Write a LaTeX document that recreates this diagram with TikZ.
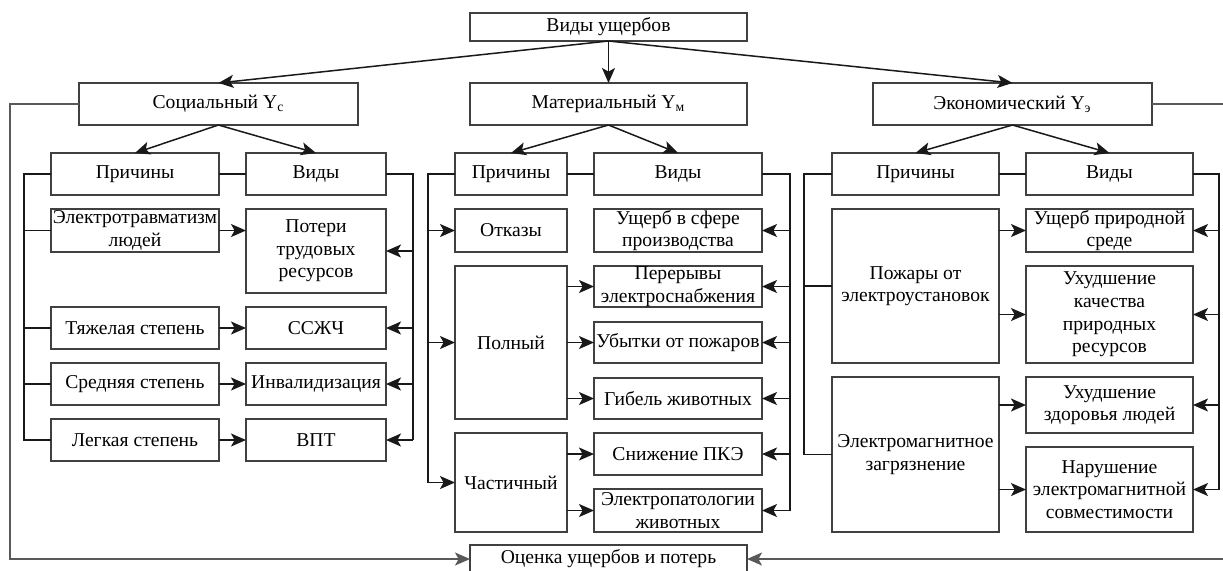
\documentclass[tikz,border=0pt]{standalone}
\usepackage{fontspec}
\setmainfont{Liberation Serif}
\usetikzlibrary{arrows.meta}

% box given by its corners (x1,y1) (x2,y2), y growing downwards
\newcommand\bx[6]{%
  \node[box, minimum width={(#4-#2)*0.5pt}, minimum height={(#5-#3)*0.5pt}]
    (#1) at ({(#2+#4)/2},{(#3+#5)/2}) {#6};}

\begin{document}
\begin{tikzpicture}[x=0.5pt, y=-0.5pt,
  box/.style={draw=black!75, line width=0.8pt, inner sep=0pt, outer sep=0pt,
              align=center, font=\fontsize{9.8}{11.3}\selectfont},
  link/.style={draw=black!90, line width=0.75pt},
  tip/.style={-{Stealth[length=7.5pt, width=6.5pt, inset=1.8pt]}},
  arr/.style={link, tip},
  back/.style={draw=black!65, line width=0.65pt, tip}]
\useasboundingbox (0,0) rectangle (1223,570);

% top levels
\bx{top}{470}{13}{747}{41}{Виды ущербов}
\bx{soc}{79}{83}{358}{125}{Социальный Y\textsubscript{с}}
\bx{mat}{470}{83}{747}{125}{Материальный Y\textsubscript{м}}
\bx{eco}{873}{83}{1152}{125}{Экономический Y\textsubscript{э}}

\bx{sPr}{51}{153}{219}{195}{Причины}
\bx{sVi}{246}{153}{386}{195}{Виды}
\bx{mPr}{455}{153}{567}{195}{Причины}
\bx{mVi}{594}{153}{762}{195}{Виды}
\bx{ePr}{832}{153}{999}{195}{Причины}
\bx{eVi}{1026}{153}{1193}{195}{Виды}

% social damage
\bx{sC1}{51}{209}{219}{252}{Электротравматизм\\людей}
\bx{sC2}{51}{307}{219}{349}{Тяжелая степень}
\bx{sC3}{51}{363}{219}{405}{Средняя степень}
\bx{sC4}{51}{419}{219}{461}{Легкая степень}
\bx{sT1}{246}{209}{386}{293}{Потери\\трудовых\\ресурсов}
\bx{sT2}{246}{307}{386}{349}{ССЖЧ}
\bx{sT3}{246}{363}{386}{405}{Инвалидизация}
\bx{sT4}{246}{419}{386}{461}{ВПТ}

% material damage
\bx{mC1}{455}{209}{567}{252}{Отказы}
\bx{mC2}{455}{266}{567}{419}{Полный}
\bx{mC3}{455}{433}{567}{532}{Частичный}
\bx{mT1}{594}{209}{762}{252}{Ущерб в сфере\\производства}
\bx{mT2}{594}{266}{762}{307}{Перерывы\\электроснабжения}
\bx{mT3}{594}{322}{762}{363}{Убытки от пожаров}
\bx{mT4}{594}{378}{762}{419}{Гибель животных}
\bx{mT5}{594}{433}{762}{475}{Снижение ПКЭ}
\bx{mT6}{594}{489}{762}{532}{Электропатологии\\животных}

% economic damage
\bx{eC1}{832}{209}{999}{363}{Пожары от\\электроустановок}
\bx{eC2}{832}{377}{999}{532}{Электромагнитное\\загрязнение}
\bx{eT1}{1026}{209}{1193}{252}{Ущерб природной\\среде}
\bx{eT2}{1026}{266}{1193}{363}{Ухудшение\\качества\\природных\\ресурсов}
\bx{eT3}{1026}{377}{1193}{433}{Ухудшение\\здоровья людей}
\bx{eT4}{1026}{447}{1193}{532}{Нарушение\\электромагнитной\\совместимости}

% assessment
\bx{res}{470}{545}{747}{573}{Оценка ущербов и потерь}

% tree links
\foreach \n in {soc,mat,eco} \draw[arr] (top.south) -- (\n.north);
\foreach \a/\p/\v in {soc/sPr/sVi, mat/mPr/mVi, eco/ePr/eVi} {
  \draw[arr] (\a.south) -- (\p.north);
  \draw[arr] (\a.south) -- (\v.north);
  \draw[link] (\p.east) -- (\v.west);
}

% social: causes bus, cause -> type, types bus
\draw[link] (sPr.west) -- ++(-27,0) coordinate (sL) -- (sL |- sC4.west) -- (sC4.west);
\foreach \n in {sC1,sC2,sC3} \draw[link] (sL |- \n.west) -- (\n.west);
\draw[arr] (sC1.east) -- (sC1.east -| sT1.west);
\foreach \i in {2,3,4} \draw[arr] (sC\i.east) -- (sT\i.west);
\draw[link] (sVi.east) -- ++(27,0) coordinate (sR) -- (sR |- sT4.east);
\foreach \i in {1,...,4} \draw[arr] (sR |- sT\i.east) -- (sT\i.east);

% material
\draw[link] (mPr.west) -- ++(-27,0) coordinate (mL) -- (mL |- mC3.west);
\foreach \i in {1,2,3} \draw[arr] (mL |- mC\i.west) -- (mC\i.west);
\foreach \t in {mT2,mT3,mT4} \draw[arr] (mC2.east |- \t.west) -- (\t.west);
\foreach \t in {mT5,mT6} \draw[arr] (mC3.east |- \t.west) -- (\t.west);
\draw[link] (mVi.east) -- ++(28,0) coordinate (mR) -- (mR |- mT6.east);
\foreach \i in {1,...,6} \draw[arr] (mR |- mT\i.east) -- (mT\i.east);

% economic
\draw[link] (ePr.west) -- ++(-28,0) coordinate (eL) -- (eL |- eC2.west) -- (eC2.west);
\draw[link] (eL |- eC1.west) -- (eC1.west);
\foreach \t in {eT1,eT2} \draw[arr] (eC1.east |- \t.west) -- (\t.west);
\foreach \t in {eT3,eT4} \draw[arr] (eC2.east |- \t.west) -- (\t.west);
\draw[link] (eVi.east) -- ++(26,0) coordinate (eR) -- (eR |- eT4.east);
\foreach \i in {1,...,4} \draw[arr] (eR |- eT\i.east) -- (eT\i.east);

% feedback to the assessment
\coordinate (fbL) at (10,0);
\coordinate (fbR) at (1225,0);
\draw[back] (soc.west) -- (soc.west -| fbL) |- (res.west);
\draw[back] (eco.east) -- (eco.east -| fbR) |- (res.east);
\end{tikzpicture}
\end{document}
